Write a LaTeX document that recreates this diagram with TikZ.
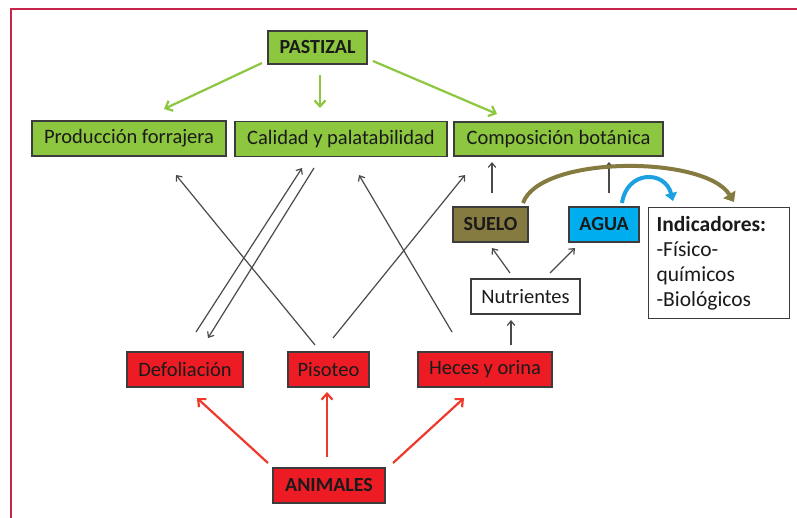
\documentclass[tikz,border=0pt]{standalone}
\usepackage{fontspec}
\setmainfont{Carlito}
\usetikzlibrary{arrows.meta}
\definecolor{frame}{HTML}{C8254A}
\definecolor{gfill}{HTML}{8DC63F}
\definecolor{rfill}{HTML}{ED1C24}
\definecolor{ofill}{HTML}{857A3F}
\definecolor{bfill}{HTML}{00AEEF}
\definecolor{garrow}{HTML}{8DC63F}
\definecolor{rarrow}{HTML}{EE3A2C}
\definecolor{karrow}{HTML}{4A4A4A}
\definecolor{oarrow}{HTML}{857A3F}
\definecolor{barrow}{HTML}{1BA1E2}
\definecolor{txt}{HTML}{1A1A1A}
\definecolor{bord}{HTML}{3C3C3C}
\tikzset{
  box/.style={draw=bord, line width=1.3pt, inner sep=0pt, text=txt, font=\fontsize{20.5}{24}\selectfont, anchor=center},
  gbox/.style={box, fill=gfill},
  rbox/.style={box, fill=rfill},
  garr/.style={draw=garrow, line width=2.2pt, -{Straight Barb[length=6pt,width=11pt]}},
  rarr/.style={draw=rarrow, line width=2.2pt, -{Straight Barb[length=6pt,width=11pt]}},
  karr/.style={draw=karrow, line width=1.2pt, -{Straight Barb[length=4.5pt,width=7.5pt]}},
}
\begin{document}
\begin{tikzpicture}[x=1pt,y=-1pt]
\useasboundingbox (0,0) rectangle (797,517);
\clip (0,0) rectangle (797,517);
\fill[white] (0,0) rectangle (797,517);
\draw[frame, line width=2pt] (11,9) rectangle (830,560);

% green nodes
\node[gbox, minimum width=99pt, minimum height=33pt, font=\fontsize{20}{24}\selectfont\bfseries] (past) at (317.5,47.5) {PASTIZAL};
\node[gbox, minimum width=194pt, minimum height=35pt] (prod) at (129,138.5) {Producción forrajera};
\node[gbox, minimum width=212pt, minimum height=35pt] (cal) at (341,139) {Calidad y palatabilidad};
\node[gbox, minimum width=209pt, minimum height=34pt] (comp) at (558.5,139) {Composición botánica};

% soil / water
\node[box, fill=ofill, minimum width=75pt, minimum height=35pt, font=\fontsize{20}{24}\selectfont\bfseries] (suelo) at (490.5,224.5) {SUELO};
\node[box, fill=bfill, minimum width=70pt, minimum height=35pt, font=\fontsize{20}{24}\selectfont\bfseries] (agua) at (604,224.5) {AGUA};
\node[box, fill=white, minimum width=134pt, minimum height=111pt, align=left, anchor=north west, text width=125pt, inner xsep=8pt, inner ysep=4pt, font=\fontsize{21.5}{25}\selectfont] (ind) at (648,207) {\textbf{Indicadores:}\\-Físico-\\químicos\\-Biológicos};
\node[box, fill=white, minimum width=109pt, minimum height=35pt] (nut) at (525.5,296.5) {Nutrientes};

% red nodes
\node[rbox, minimum width=116pt, minimum height=35pt] (defo) at (185,369.5) {Defoliación};
\node[rbox, minimum width=81pt, minimum height=35pt] (piso) at (328.5,369.5) {Pisoteo};
\node[rbox, minimum width=134pt, minimum height=35pt] (hece) at (485,369.5) {Heces y orina};
\node[rbox, minimum width=112pt, minimum height=35pt, font=\fontsize{20}{24}\selectfont\bfseries] (anim) at (329,485.5) {ANIMALES};

% connector end points
\coordinate (g1s) at (262,63);  \coordinate (g1e) at (164,109);
\coordinate (g2s) at (320,75);  \coordinate (g2e) at (320,108);
\coordinate (g3s) at (373,61);  \coordinate (g3e) at (497,114);

\coordinate (k1s) at (315,345); \coordinate (k1e) at (176,175);
\coordinate (k2s) at (196,332); \coordinate (k2e) at (302,168);
\coordinate (k3s) at (314,168); \coordinate (k3e) at (208,338);
\coordinate (k4s) at (452,332); \coordinate (k4e) at (359,175);
\coordinate (k5s) at (333,338); \coordinate (k5e) at (465,175);
\coordinate (k6s) at (492,193); \coordinate (k6e) at (492,162);
\coordinate (k7s) at (609,193); \coordinate (k7e) at (609,162);
\coordinate (k8s) at (510,273); \coordinate (k8e) at (492,248);
\coordinate (k9s) at (550,273); \coordinate (k9e) at (575,248);
\coordinate (k10s) at (511,345); \coordinate (k10e) at (511,320);

\coordinate (r1s) at (268,463); \coordinate (r1e) at (197,398);
\coordinate (r2s) at (327,457); \coordinate (r2e) at (327,392);
\coordinate (r3s) at (393,463); \coordinate (r3e) at (464,398);

\coordinate (os) at (523,203); \coordinate (oe) at (734,202);
\coordinate (bs) at (622,203); \coordinate (be) at (673,201);

% green arrows
\draw[garr] (g1s) -- (g1e);
\draw[garr] (g2s) -- (g2e);
\draw[garr] (g3s) -- (g3e);

% black arrows
\draw[karr] (k1s) -- (k1e);
\draw[karr] (k2s) -- (k2e);
\draw[karr] (k3s) -- (k3e);
\draw[karr] (k4s) -- (k4e);
\draw[karr] (k5s) -- (k5e);
\draw[karr] (k6s) -- (k6e);
\draw[karr] (k7s) -- (k7e);
\draw[karr] (k8s) -- (k8e);
\draw[karr] (k9s) -- (k9e);
\draw[karr] (k10s) -- (k10e);

% red arrows
\draw[rarr] (r1s) -- (r1e);
\draw[rarr] (r2s) -- (r2e);
\draw[rarr] (r3s) -- (r3e);

% curved arrows
\draw[draw=oarrow, line width=4pt, -{Triangle[length=9pt,width=14pt]}] (os) .. controls (540,155) and (705,155) .. (oe);
\draw[draw=barrow, line width=4pt, -{Triangle[length=8pt,width=12pt]}] (bs) .. controls (627,170) and (665,170) .. (be);
\end{tikzpicture}
\end{document}
